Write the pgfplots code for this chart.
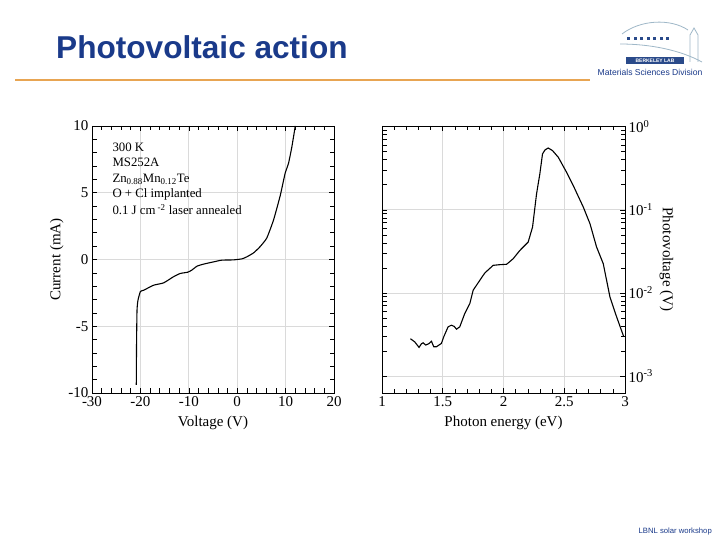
\documentclass[border=0pt]{standalone}
\usepackage{fontspec}
\setmainfont{Liberation Serif}
\newfontfamily\arial{Liberation Sans}
\usepackage{pgfplots}
\pgfplotsset{compat=1.18}
\definecolor{titleblue}{HTML}{1A3A8A}
\definecolor{rulecol}{HTML}{E8A552}
\definecolor{gridgray}{HTML}{DADADA}
\definecolor{logoblue}{HTML}{2A4A8A}
\definecolor{logolight}{HTML}{9FB8C8}
\pgfplotsset{
  common/.style={
    scale only axis,
    anchor=south west,
    tick align=inside,
    tick style={black, line width=0.6pt},
    major tick length=5pt,
    minor tick length=4.5pt,
    grid=major,
    major grid style={gridgray, line width=0.7pt},
    axis line style={line width=0.7pt},
    ticklabel style={font=\fontsize{15}{17}\selectfont},
    label style={font=\fontsize{15}{17}\selectfont},
    /pgf/number format/assume math mode=true,
  }
}
\begin{document}
\begin{tikzpicture}[x=1pt,y=1pt]
\fill[white] (0,0) rectangle (720,540);
% title
\node[anchor=west, inner sep=0pt, text=titleblue, font=\arial\bfseries\fontsize{31.6}{35}\selectfont] at (56,540-47) {Photovoltaic action};
\draw[rulecol, line width=1.6pt] (15,540-80) -- (590,540-80);
% logo (simplified)
\draw[logolight, line width=0.8pt] (622,540-34) .. controls (640,540-20) and (670,540-18) .. (688,540-30);
\draw[logolight, line width=0.8pt] (620,540-44) .. controls (650,540-44) and (680,540-50) .. (702,540-62);
\foreach \i in {0,...,6} {\fill[logoblue] (627+\i*6.5,540-40) rectangle ++(3,3);}
\draw[logolight, line width=0.8pt] (690,540-62) -- (690,540-35) -- (694,540-28) -- (698,540-35) -- (698,540-62);
\fill[logoblue] (626,540-64) rectangle (684,540-57);
\node[text=white, inner sep=0pt, font=\arial\bfseries\fontsize{5}{6}\selectfont] at (655,540-60.5) {BERKELEY LAB};
\node[text=titleblue, inner sep=0pt, font=\arial\fontsize{8.6}{10}\selectfont] at (650,540-72) {Materials Sciences Division};
% footer
\node[text=titleblue, anchor=east, inner sep=0pt, font=\arial\fontsize{7.7}{9}\selectfont] at (712,540-532) {LBNL solar workshop};

% left plot: I-V
\begin{axis}[common,
  at={(92pt,147pt)}, width=242pt, height=267pt,
  xmin=-30, xmax=20, ymin=-10, ymax=10,
  xtick={-30,-20,...,20}, ytick={-10,-5,...,10},
  minor x tick num=4, minor y tick num=4,
  xlabel={Voltage (V)}, ylabel={Current (mA)},
  xlabel style={yshift=-3pt}, ylabel style={yshift=-2pt},
]
\addplot[black, line width=1.1pt, smooth, tension=0.3] coordinates {
(-20.85,-9.4) (-20.8,-6.5) (-20.7,-3.8) (-20.5,-3.05) (-20.0,-2.4) (-19.3,-2.3)
(-17.3,-1.93) (-15.2,-1.75) (-13.2,-1.3) (-11.8,-1.05) (-10.2,-0.95) (-9.4,-0.8)
(-8.3,-0.5) (-7.0,-0.35) (-4.9,-0.18) (-3.2,-0.05) (-0.8,-0.03) (1.0,0.05)
(2.0,0.2) (3.4,0.5) (4.7,0.95) (6.1,1.6) (7.5,2.95) (8.9,4.8) (9.9,6.45)
(10.6,7.2) (11.3,8.45) (12.0,10.0)
};
\node[anchor=north west, align=left, inner sep=0pt, font=\fontsize{12.8}{15.5}\selectfont] at (axis cs:-25.8,8.75)
  {300 K\\MS252A\\Zn\textsubscript{0.88}Mn\textsubscript{0.12}Te\\O + Cl implanted\\[1pt]0.1 J cm\,\textsuperscript{-2} laser annealed};
\end{axis}

% right plot: photovoltage spectrum
\begin{axis}[common,
  at={(382pt,147pt)}, width=243pt, height=267pt,
  xmin=1, xmax=3, ymode=log, ymin=6.25e-4, ymax=1.02,
  xtick={1,1.5,...,3}, minor x tick num=4,
  ytick={0.001,0.01,0.1,1},
  yticklabels={10\textsuperscript{-3},10\textsuperscript{-2},10\textsuperscript{-1},10\textsuperscript{0}},
  yticklabel pos=right,
  xticklabel style={/pgf/number format/fixed},
  xlabel={Photon energy (eV)}, ylabel={Photovoltage (V)},
  xlabel style={yshift=-3pt},
  ylabel style={rotate=180},
]
\addplot[black, line width=1.1pt] coordinates {
(1.234,0.00281) (1.269,0.00258) (1.305,0.00221) (1.325,0.00245) (1.338,0.00251)
(1.360,0.00236) (1.385,0.00245) (1.407,0.00262) (1.426,0.00225) (1.448,0.00225)
(1.489,0.00247) (1.508,0.00296) (1.544,0.00391) (1.571,0.00409) (1.595,0.00395)
(1.613,0.00366) (1.640,0.00391) (1.681,0.00565) (1.723,0.00745) (1.750,0.01076)
(1.805,0.01419) (1.846,0.01738) (1.915,0.02148) (1.970,0.02188) (2.025,0.02208)
(2.080,0.02582) (2.135,0.03251) (2.203,0.04093) (2.239,0.06194) (2.272,0.1556)
(2.299,0.2704) (2.321,0.4699) (2.341,0.5248) (2.368,0.5546) (2.404,0.5152)
(2.451,0.4285) (2.519,0.2831) (2.574,0.1959) (2.657,0.1076) (2.712,0.0679)
(2.766,0.03565) (2.821,0.02249) (2.876,0.00895) (2.931,0.00515) (2.99,0.00296)
};
\end{axis}
\end{tikzpicture}
\end{document}
